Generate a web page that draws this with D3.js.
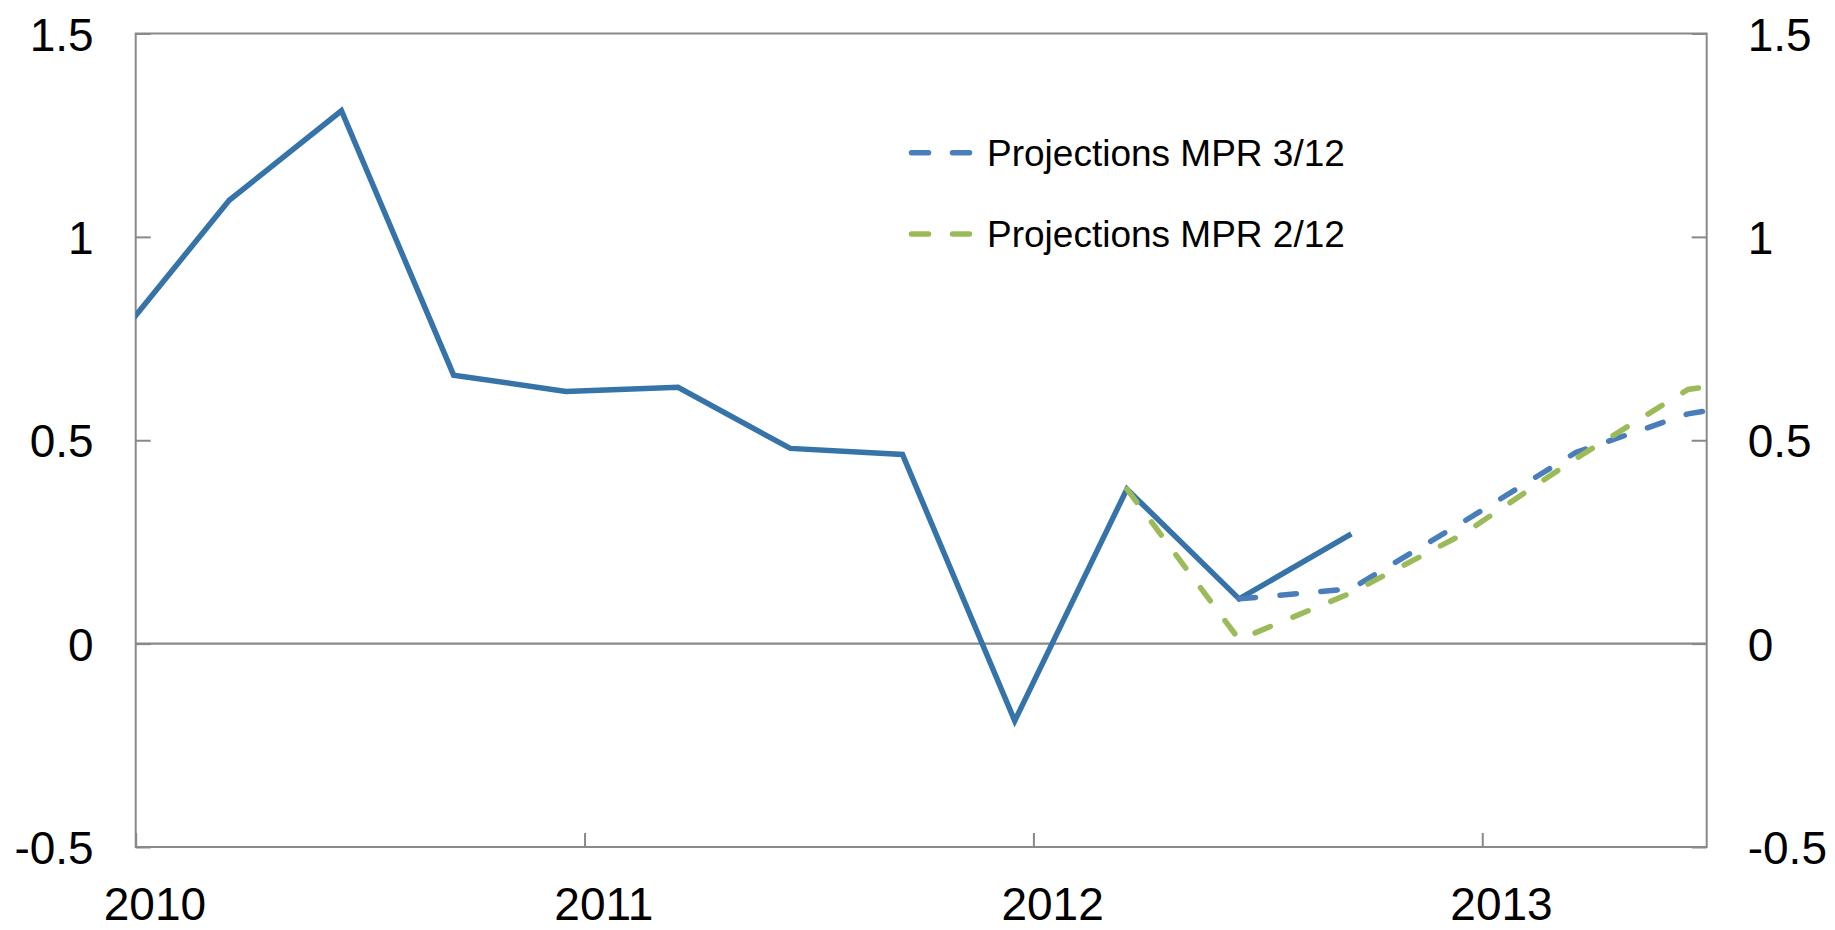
<!DOCTYPE html>
<html>
<head>
<meta charset="utf-8">
<script src="https://cdn.jsdelivr.net/npm/d3@7/dist/d3.min.js"></script>
<style>
  html, body { margin: 0; padding: 0; background: #fff; }
  svg { display: block; }
  text { font-family: "Liberation Sans", Arial, sans-serif; fill: #000; }
</style>
</head>
<body>
<svg id="chart" width="1835" height="930"></svg>
<script>
// ---- data ----
const actualPeriods = ["2009Q4","2010Q1","2010Q2","2010Q3","2010Q4","2011Q1","2011Q2","2011Q3","2011Q4","2012Q1","2012Q2","2012Q3"];
const actualValues  = [0.75, 1.09, 1.31, 0.66, 0.62, 0.63, 0.48, 0.465, -0.19, 0.38, 0.11, 0.27];

const mpr312Periods = ["2012Q2","2012Q3","2012Q4","2013Q1","2013Q2","2013Q3"];
const mpr312Values  = [0.11, 0.135, 0.30, 0.47, 0.565, 0.61];

const mpr212Periods = ["2012Q1","2012Q2","2012Q3","2012Q4","2013Q1","2013Q2","2013Q3"];
const mpr212Values  = [0.38, 0.01, 0.125, 0.27, 0.455, 0.625, 0.66];

const legendLabels = ["Projections MPR 3/12", "Projections MPR 2/12"];
const yTicks = [-0.5, 0, 0.5, 1, 1.5];
const yTickLabels = ["-0.5", "0", "0.5", "1", "1.5"];
const xTicks = [2010, 2011, 2012, 2013];
const xTickLabels = ["2010", "2011", "2012", "2013"];

// ---- styles ----
const colActual = "#3673a8";
const col312 = "#4a7ebb";
const col212 = "#9bbb59";
const axisCol = "#898989";

// ---- layout ----
const L = 135.7, R = 1706.7, T = 33.5, B = 847;
const svg = d3.select("#chart");

// period "YYYYQn" -> decimal year at middle of the quarter's last month
function toYear(p) {
  const yr = +p.slice(0, 4), q = +p.slice(5);
  return yr + q * 0.25 - 1 / 24;
}

const x = d3.scaleLinear().domain([2010, 2013.5]).range([L, R]);
const y = d3.scaleLinear().domain([-0.5, 1.5]).range([B, T]);

const fmtY = d => yTickLabels[yTicks.indexOf(d)];
const fmtX = d => xTickLabels[xTicks.indexOf(d)];

// axes
const gL = svg.append("g").attr("transform", `translate(${L},0)`)
  .call(d3.axisLeft(y).tickValues(yTicks).tickFormat(fmtY).tickSizeInner(-15).tickSizeOuter(0).tickPadding(42));
const gR = svg.append("g").attr("transform", `translate(${R},0)`)
  .call(d3.axisRight(y).tickValues(yTicks).tickFormat(fmtY).tickSizeInner(-15).tickSizeOuter(0).tickPadding(41));
const gB = svg.append("g").attr("transform", `translate(0,${B})`)
  .call(d3.axisBottom(x).tickValues(xTicks).tickFormat(fmtX).tickSizeInner(-14).tickSizeOuter(0).tickPadding(40));

[gL, gR, gB].forEach(g => {
  g.select(".domain").remove();
  g.selectAll(".tick line").attr("stroke", axisCol).attr("stroke-width", 2);
  g.selectAll(".tick text").attr("font-size", 46).attr("font-family", "Liberation Sans, Arial, sans-serif").attr("fill", "#000");
});
gL.selectAll(".tick text").attr("dy", "0.36em");
gR.selectAll(".tick text").attr("dy", "0.36em");
const labelShift = x(2010 + 1 / 24) - x(2010);
gB.selectAll(".tick text").attr("x", labelShift);

// frame
svg.append("rect")
  .attr("x", L).attr("y", T).attr("width", R - L).attr("height", B - T)
  .attr("fill", "none").attr("stroke", axisCol).attr("stroke-width", 2);

// zero line
svg.append("line")
  .attr("x1", x(2010)).attr("x2", x(2013.5)).attr("y1", y(0)).attr("y2", y(0))
  .attr("stroke", axisCol).attr("stroke-width", 2.2);

// clip
svg.append("clipPath").attr("id", "plotclip")
  .append("rect").attr("x", L).attr("y", 0).attr("width", R - L).attr("height", 930);

const plot = svg.append("g").attr("clip-path", "url(#plotclip)");
const line = d3.line().x(d => x(toYear(d[0]))).y(d => y(d[1]));

plot.append("path")
  .datum(d3.zip(actualPeriods, actualValues))
  .attr("d", line).attr("fill", "none")
  .attr("stroke", colActual).attr("stroke-width", 5.5).attr("stroke-linejoin", "miter");

plot.append("path")
  .datum(d3.zip(mpr312Periods, mpr312Values))
  .attr("d", line).attr("fill", "none")
  .attr("stroke", col312).attr("stroke-width", 5.5)
  .attr("stroke-dasharray", "16.5,24.5").attr("stroke-linecap", "round");

plot.append("path")
  .datum(d3.zip(mpr212Periods, mpr212Values))
  .attr("d", line).attr("fill", "none")
  .attr("stroke", col212).attr("stroke-width", 5.5)
  .attr("stroke-dasharray", "16.5,24.5").attr("stroke-linecap", "round");

// legend
const legendColors = [col312, col212];
const legend = svg.append("g");
const rowY = [152.7, 234];
legendLabels.forEach((lab, i) => {
  legend.append("line")
    .attr("x1", 911.5).attr("x2", 969.5).attr("y1", rowY[i]).attr("y2", rowY[i])
    .attr("stroke", legendColors[i]).attr("stroke-width", 5.5)
    .attr("stroke-dasharray", "17,24").attr("stroke-linecap", "round");
  legend.append("text")
    .attr("x", 987).attr("y", rowY[i]).attr("dy", "0.36em")
    .attr("font-size", 37).text(lab);
});
</script>
</body>
</html>
